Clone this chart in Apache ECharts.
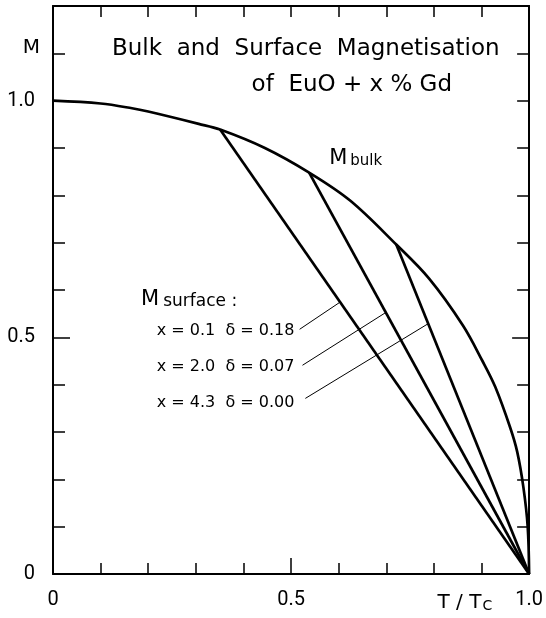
<!DOCTYPE html>
<html><head><meta charset="utf-8">
<script src="https://cdn.jsdelivr.net/npm/echarts@6/dist/echarts.min.js"></script>
<style>html,body{margin:0;padding:0;background:#fff}#c{width:546px;height:618px}</style>
</head><body><div id="c"></div>
<script>
// ---- data ----
const bulkT = [0, 0.1, 0.166, 0.2, 0.306, 0.351, 0.445, 0.538, 0.624, 0.721, 0.790, 0.861, 0.902, 0.929, 0.960, 0.975, 0.988, 0.997, 1.0];
const bulkM = [1.0, 0.994, 0.984, 0.977, 0.951, 0.939, 0.900, 0.848, 0.789, 0.696, 0.624, 0.525, 0.450, 0.395, 0.310, 0.258, 0.183, 0.10, 0];
const surfStartT = [0.351, 0.538, 0.721];
const surfStartM = [0.939, 0.848, 0.696];
const surfEndT = 1.0;
const surfEndM = 0.0;
const surfLabels = ['x = 0.1  δ = 0.18', 'x = 2.0  δ = 0.07', 'x = 4.3  δ = 0.00'];
const leaderFromT = [0.518, 0.524, 0.530];
const leaderFromM = [0.517, 0.441, 0.371];
const leaderToT = [0.603, 0.699, 0.788];
const xTickValues = [0, 0.5, 1.0];
const xTickText = ['0', '0.5', '1.0'];
const yTickValues = [0, 0.5, 1.0];
const yTickText = ['0', '0.5', '1.0'];
const titleLines = ['Bulk  and  Surface  Magnetisation', 'of  EuO + x % Gd'];

const FONT = 'DejaVu Sans';
const NUMFONT = 'Roboto';
const chart = echarts.init(document.getElementById('c'), null, {renderer: 'canvas'});

function fmt(vals, texts) {
  return v => { for (let i = 0; i < vals.length; i++) if (Math.abs(v - vals[i]) < 1e-6) return texts[i]; return ''; };
}
const lineBlack = {color: '#000', width: 2};
const tickStyle = {color: '#000', width: 1.5};

const series = [];
series.push({type: 'line', name: 'bulk', data: bulkT.map((t, i) => [t, bulkM[i]]), showSymbol: false, smooth: 0.35,
  lineStyle: {color: '#000', width: 2.7}, silent: true});
surfStartT.forEach((t, i) => {
  series.push({type: 'line', data: [[t, surfStartM[i]], [surfEndT, surfEndM]], showSymbol: false, lineStyle: {color: '#000', width: 2.7}, silent: true});
  const endM = surfStartM[i] * (surfEndT - leaderToT[i]) / (surfEndT - t);
  series.push({type: 'line', data: [[leaderFromT[i], leaderFromM[i]], [leaderToT[i], endM]], showSymbol: false, lineStyle: {color: '#000', width: 1}, silent: true});
});

function xAx(pos, extra) {
  return Object.assign({type: 'value', min: 0, max: 1, position: pos, splitLine: {show: false}}, extra);
}
function yAx(pos, extra) {
  return Object.assign({type: 'value', min: 0, max: 1.2, position: pos, splitLine: {show: false}}, extra);
}

chart.setOption({
  animation: false,
  backgroundColor: '#fff',
  grid: {left: 53, right: 12, top: 6, bottom: 44, containLabel: false},
  xAxis: [
    xAx('bottom', {interval: 0.1,
      axisLine: {onZero: false, lineStyle: lineBlack}, axisTick: {inside: true, length: 11, lineStyle: tickStyle},
      axisLabel: {customValues: xTickValues, formatter: fmt(xTickValues, xTickText), margin: 16, fontSize: 20, color: '#000', fontFamily: NUMFONT}}),
    xAx('top', {interval: 0.1,
      axisLine: {onZero: false, lineStyle: lineBlack}, axisTick: {inside: true, length: 11, lineStyle: tickStyle},
      axisLabel: {show: false}}),
    xAx('bottom', {axisLine: {show: false, onZero: false},
      axisTick: {inside: true, length: 16, customValues: [0.5], lineStyle: tickStyle}, axisLabel: {show: false}})
  ],
  yAxis: [
    yAx('left', {interval: 0.1,
      axisLine: {show: true, onZero: false, lineStyle: lineBlack}, axisTick: {show: true, inside: true, length: 12, lineStyle: tickStyle},
      axisLabel: {customValues: yTickValues, formatter: fmt(yTickValues, yTickText), margin: 18, fontSize: 20, color: '#000', fontFamily: NUMFONT}}),
    yAx('right', {interval: 0.1,
      axisLine: {show: true, onZero: false, lineStyle: lineBlack}, axisTick: {show: true, inside: true, length: 12, lineStyle: tickStyle},
      axisLabel: {show: false}}),
    yAx('left', {axisLine: {show: false, onZero: false},
      axisTick: {show: true, inside: true, length: 17, customValues: [0.5], lineStyle: tickStyle}, axisLabel: {show: false}}),
    yAx('right', {axisLine: {show: false, onZero: false},
      axisTick: {show: true, inside: true, length: 17, customValues: [0.5], lineStyle: tickStyle}, axisLabel: {show: false}})
  ],
  series: series
});

// annotations placed in data coordinates
const px = (t, m) => chart.convertToPixel({gridIndex: 0}, [t, m]);
const bulkLabelPos = px(0.580, 0.884);
const surfHeadPos = px(0.185, 0.586);
const rowM = [0.513, 0.437, 0.361];
const rowT = 0.218;
const g = [];
g.push({type: 'text', left: 112, top: 38, style: {text: titleLines[0], font: '23px "' + FONT + '"', fill: '#000'}});
g.push({type: 'text', x: 452, y: 85, style: {text: titleLines[1], font: '23px "' + FONT + '"', fill: '#000', align: 'right', verticalAlign: 'middle'}});
g.push({type: 'text', x: 40, y: 48, style: {text: 'M', font: '20px "' + FONT + '"', fill: '#000', align: 'right', verticalAlign: 'middle'}});
g.push({type: 'text', x: bulkLabelPos[0], y: bulkLabelPos[1], style: {
  text: '{m|M}{s|bulk}', align: 'left', verticalAlign: 'middle', fill: '#000',
  rich: {m: {fontSize: 21, fontFamily: FONT, lineHeight: 26, verticalAlign: 'bottom'}, s: {fontSize: 15, fontFamily: FONT, lineHeight: 22, verticalAlign: 'bottom', padding: [0, 0, 0, 3]}}}});
g.push({type: 'text', x: surfHeadPos[0], y: surfHeadPos[1], style: {
  text: '{m|M}{s|surface :}', align: 'left', verticalAlign: 'middle', fill: '#000',
  rich: {m: {fontSize: 21, fontFamily: FONT, lineHeight: 26, verticalAlign: 'bottom'}, s: {fontSize: 17, fontFamily: FONT, lineHeight: 20, verticalAlign: 'bottom', padding: [0, 0, 0, 4]}}}});
surfLabels.forEach((s, i) => {
  const p = px(rowT, rowM[i]);
  g.push({type: 'text', x: p[0], y: p[1], style: {text: s, font: '16px "' + FONT + '"', fill: '#000', align: 'left', verticalAlign: 'middle'}});
});
const tPos = px(0.865, 0);
g.push({type: 'text', x: tPos[0], y: tPos[1] + 27, style: {
  text: '{m|T / T}{s|C}', align: 'center', verticalAlign: 'middle', fill: '#000',
  rich: {m: {fontSize: 20, fontFamily: FONT, lineHeight: 24, verticalAlign: 'bottom'}, s: {fontSize: 14, fontFamily: FONT, lineHeight: 18, verticalAlign: 'bottom', padding: [0, 0, 0, 1]}}}});
chart.setOption({graphic: g});
</script></body></html>
